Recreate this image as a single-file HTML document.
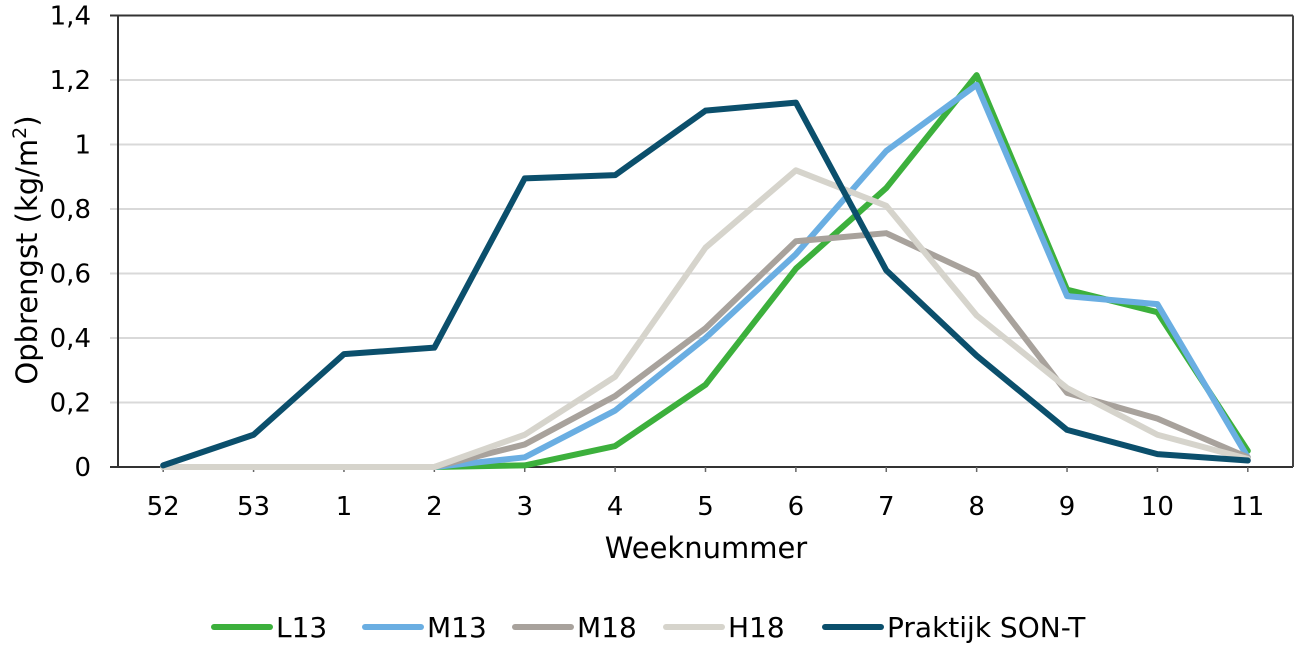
<!DOCTYPE html>
<html><head><meta charset="utf-8"><style>
body{margin:0;background:#fff;width:1302px;height:645px;overflow:hidden}
svg text{font-family:"DejaVu Sans","Liberation Sans",sans-serif;fill:#000}
</style></head><body>
<svg id="c" width="1302" height="645"></svg>
<script>
const categories=["52","53","1","2","3","4","5","6","7","8","9","10","11"];
const yTicks=[0,0.2,0.4,0.6,0.8,1,1.2,1.4];
const yTickLabels=["0","0,2","0,4","0,6","0,8","1","1,2","1,4"];
const seriesNames=["L13","M13","M18","H18","Praktijk SON-T"];
const l13=[0,0,0,0,0.005,0.065,0.255,0.615,0.865,1.215,0.55,0.48,0.05];
const m13=[0,0,0,0,0.03,0.175,0.4,0.66,0.98,1.185,0.53,0.505,0.03];
const m18=[0,0,0,0,0.07,0.22,0.43,0.7,0.725,0.595,0.23,0.15,0.03];
const h18=[0,0,0,0,0.1,0.28,0.68,0.92,0.81,0.47,0.245,0.1,0.025];
const sont=[0.005,0.1,0.35,0.37,0.895,0.905,1.105,1.13,0.61,0.345,0.115,0.04,0.02];
const colors=["#3cb03c","#6aaee2","#a8a29c","#d6d4cc","#0b4f6c"];
const svg=document.getElementById('c');const NS='http://www.w3.org/2000/svg';
const L=118,R=1293,T=15.5,B=467,ymax=1.4;
const bw=(R-L)/categories.length;
const x=i=>L+bw*(i+0.5);
const y=v=>B-(v/ymax)*(B-T);
function mk(t,a,p){const e=document.createElementNS(NS,t);for(const k in a)e.setAttribute(k,a[k]);(p||svg).appendChild(e);return e;}
yTicks.forEach((v,i)=>{
 const g=mk('line',{x1:110,x2:R,y1:y(v),y2:y(v),stroke:(i==yTicks.length-1||i==0)?'#333':'#d9d9d9','stroke-width':2});
 
 
 const t=mk('text',{x:91,y:y(v)+9,'text-anchor':'end','font-size':26});t.textContent=yTickLabels[i];
 
 
});
const ax=mk('line',{x1:L,x2:L,y1:T,y2:B,stroke:'#333','stroke-width':2});


const rx=mk('line',{x1:R,x2:R,y1:T,y2:B,stroke:'#444','stroke-width':2});


categories.forEach((c,i)=>{
 const tk=mk('line',{x1:x(i),x2:x(i),y1:B,y2:B+5,stroke:'#666','stroke-width':1.5});
 
 
 const t=mk('text',{x:x(i),y:515,'text-anchor':'middle','font-size':26});t.textContent=c;
 
 
});
const xt=mk('text',{x:706,y:558,'text-anchor':'middle','font-size':29});xt.textContent='Weeknummer';


const yt=mk('text',{transform:'translate(37,250) rotate(-90)','text-anchor':'middle','font-size':29});
yt.innerHTML='Opbrengst (kg/m<tspan dy="-11" font-size="19">2</tspan><tspan dy="11">)</tspan>';


[l13,m13,m18,h18,sont].forEach((s,k)=>{
 const p=mk('polyline',{points:s.map((v,i)=>x(i)+','+y(v)).join(' '),fill:'none',stroke:colors[k],'stroke-width':6,'stroke-linejoin':'round','stroke-linecap':'round'});
 
 
});
const lx=[214,365,515,666,825];
seriesNames.forEach((n,k)=>{
 const l=mk('line',{x1:lx[k],x2:lx[k]+56,y1:627,y2:627,stroke:colors[k],'stroke-width':6,'stroke-linecap':'round'});
 
 
 const t=mk('text',{x:lx[k]+62,y:637,'font-size':28});t.textContent=n;
 
 
});
</script>
</body></html>
